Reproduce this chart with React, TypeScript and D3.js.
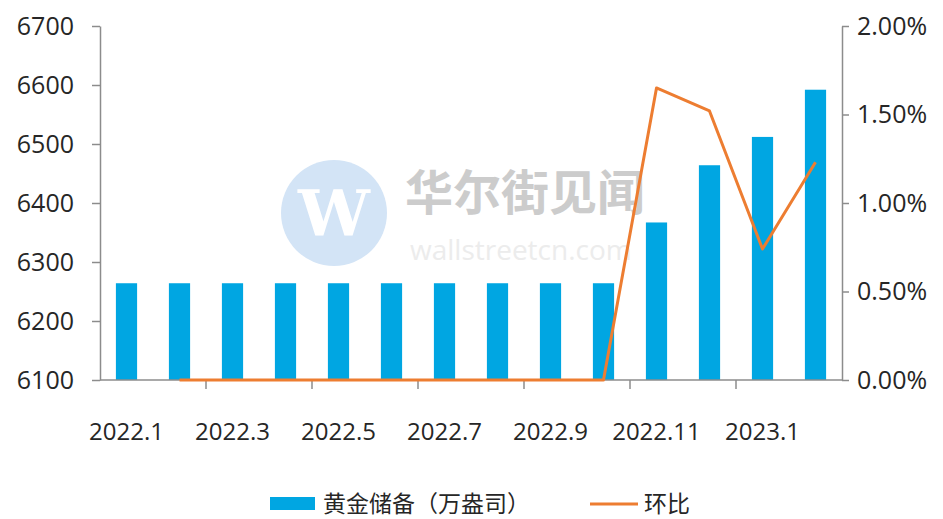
import React, { useEffect, useRef } from "react";
import * as d3 from "d3";

const W = 943;
const H = 519;
const MARGIN = { top: 26, right: 101, bottom: 139, left: 100 };

const months = [
  "2022.1", "2022.2", "2022.3", "2022.4", "2022.5", "2022.6", "2022.7",
  "2022.8", "2022.9", "2022.10", "2022.11", "2022.12", "2023.1", "2023.2",
];
// 黄金储备（万盎司）
const reserves = [6264, 6264, 6264, 6264, 6264, 6264, 6264, 6264, 6264, 6264, 6367, 6464, 6512, 6592];
// 环比 (%), first month has no prior value
const mom: (number | null)[] = [null, 0, 0, 0, 0, 0, 0, 0, 0, 0, 1.65, 1.52, 0.74, 1.23];
const leftTicks = [6100, 6200, 6300, 6400, 6500, 6600, 6700];
const rightTicks = [0, 0.5, 1, 1.5, 2];

const BLUE = "#00a6e2";
const ORANGE = "#ed7d31";
const AXIS = "#8c8c8c";
const FONT = "'Open Sans', 'Liberation Sans', Arial, sans-serif";
const CJK = "'Noto Sans CJK SC', sans-serif";

const App = () => {
  const axesRef = useRef<SVGGElement>(null);
  const boundsWidth = W - MARGIN.left - MARGIN.right;
  const boundsHeight = H - MARGIN.top - MARGIN.bottom;

  const xScale = d3.scaleBand().domain(months).range([0, boundsWidth]).paddingInner(0).paddingOuter(0);
  const yLeft = d3.scaleLinear().domain([6100, 6700]).range([boundsHeight, 0]);
  const yRight = d3.scaleLinear().domain([0, 2]).range([boundsHeight, 0]);
  const barW = xScale.bandwidth() * 0.4;

  const lineGen = d3
    .line<number | null>()
    .defined((d) => d !== null)
    .x((_, i) => (xScale(months[i]) as number) + xScale.bandwidth() / 2)
    .y((d) => yRight(d as number));

  useEffect(() => {
    const g = d3.select(axesRef.current);
    g.selectAll("*").remove();

    const left = g.append("g").call(
      d3.axisLeft(yLeft).tickValues(leftTicks).tickSize(8).tickPadding(18).tickSizeOuter(0).tickFormat(d3.format("d"))
    );
    const right = g
      .append("g")
      .attr("transform", `translate(${boundsWidth},0)`)
      .call(
        d3.axisRight(yRight).tickValues(rightTicks).tickSize(7).tickPadding(8).tickSizeOuter(0)
          .tickFormat((d) => (d as number).toFixed(2) + "%")
      );
    // bottom axis: ticks between every two months
    const bottom = g.append("g").attr("transform", `translate(0,${boundsHeight})`);
    bottom.append("line").attr("x1", 0).attr("x2", boundsWidth).attr("stroke", AXIS).attr("stroke-width", 1.5);
    months.forEach((m, i) => {
      if (i % 2 === 0 && i > 0) {
        const x = xScale(m) as number;
        bottom.append("line").attr("x1", x).attr("x2", x).attr("y1", 0).attr("y2", 9).attr("stroke", AXIS).attr("stroke-width", 1.5);
      }
      if (i % 2 === 0) {
        bottom
          .append("text")
          .attr("x", (xScale(m) as number) + xScale.bandwidth() / 2)
          .attr("y", 60)
          .attr("text-anchor", "middle")
          .attr("fill", "#262626")
          .attr("font-size", 24)
          .attr("font-family", FONT)
          .text(m);
      }
    });

    [left, right].forEach((ax) => {
      ax.select(".domain").attr("stroke", AXIS).attr("stroke-width", 1.5);
      ax.selectAll(".tick line").attr("stroke", AXIS).attr("stroke-width", 1.5);
      ax.selectAll(".tick text").attr("fill", "#262626").attr("font-size", 25).attr("font-family", FONT);
    });
  }, []);

  return (
    <svg width={W} height={H} style={{ position: "absolute", left: 0, top: 0, background: "#fff" }}>
      {/* watermark */}
      <g>
        <circle cx={334} cy={213} r={53} fill="#d3e4f6" />
        <text x={334} y={236} textAnchor="middle" fontSize={64} fontFamily="'DejaVu Serif', serif" fill="#fff" fontWeight="bold">W</text>
        <text x={405} y={210} fontSize={48} fontFamily={CJK} fill="#cccccc" fontWeight="bold">华尔街见闻</text>
        <text x={410} y={260} fontSize={28} fontFamily={FONT} fill="#ececec">wallstreetcn.com</text>
      </g>
      <g transform={`translate(${MARGIN.left},${MARGIN.top})`}>
        {reserves.map((v, i) => (
          <rect
            key={months[i]}
            x={(xScale(months[i]) as number) + (xScale.bandwidth() - barW) / 2}
            y={yLeft(v)}
            width={barW}
            height={boundsHeight - yLeft(v)}
            fill={BLUE}
          />
        ))}
        <g ref={axesRef} />
        <path d={lineGen(mom) || ""} fill="none" stroke={ORANGE} strokeWidth={3} strokeLinejoin="round" />
      </g>
      {/* legend */}
      <g transform="translate(270,497)">
        <rect x={0} y={0} width={45} height={13} fill={BLUE} />
        <text x={53} y={15} fontSize={23} fontFamily={CJK} fill="#262626">黄金储备（万盎司）</text>
        <line x1={320} x2={368} y1={7} y2={7} stroke={ORANGE} strokeWidth={3} />
        <text x={374} y={15} fontSize={23} fontFamily={CJK} fill="#262626">环比</text>
      </g>
    </svg>
  );
};

export default App;
